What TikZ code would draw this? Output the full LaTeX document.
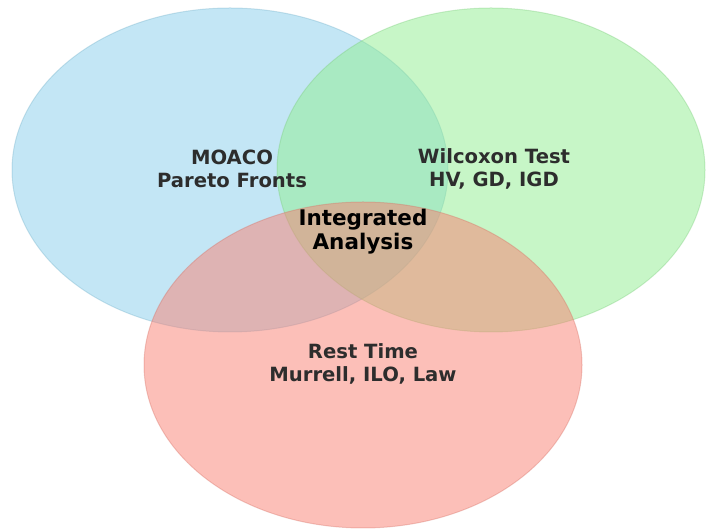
\documentclass[tikz,border=0pt]{standalone}
\usepackage{fontspec}
\setmainfont{DejaVu Sans}
\usepackage{tikz}

\definecolor{skyblue}{RGB}{135,206,235}
\definecolor{lightgreen}{RGB}{144,238,144}
\definecolor{salmon}{RGB}{250,128,114}
\definecolor{labelgray}{RGB}{45,45,45}

\tikzset{
	setfill/.style={fill=#1, fill opacity=0.5, draw=#1!85!black, draw opacity=0.35, line width=1pt},
	setlabel/.style={align=center, text=labelgray, font=\bfseries\fontsize{19.6}{23}\selectfont},
	corelabel/.style={align=center, text=black, font=\bfseries\fontsize{21.5}{23.5}\selectfont}
}

\begin{document}
\begin{tikzpicture}[x=1pt,y=1pt]
			\useasboundingbox (0,0) rectangle (706,529);
			\draw[setfill=skyblue](230,359) ellipse (218 and 162);
			\draw[setfill=lightgreen](491,359) ellipse (214 and 162);
			\draw[setfill=salmon](363,164) ellipse (219 and 163);
			\node[setlabel] (moaco) at (232,360.5) {MOACO\\Pareto Fronts};
			\node[setlabel] (wilcoxon) at (494,360.5) {Wilcoxon Test\\HV, GD, IGD};
			\node[setlabel] (rest) at (363,165) {Rest Time\\Murrell, ILO, Law};
			\node[corelabel] (core) at (363,297.5) {Integrated\\Analysis};
		\end{tikzpicture}
\end{document}
